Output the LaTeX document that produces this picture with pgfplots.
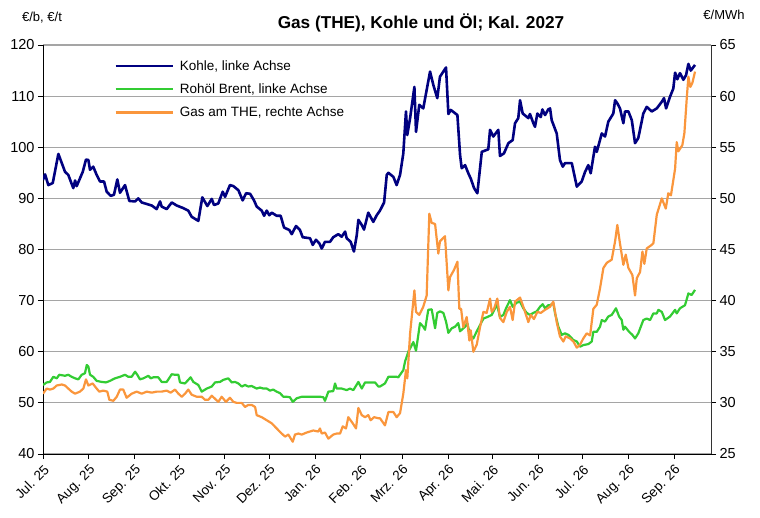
\documentclass[border=0pt]{standalone}
\usepackage{fontspec}
\setmainfont{Liberation Sans}
\usepackage{pgfplots}
\pgfplotsset{compat=1.18}
\definecolor{kohle}{RGB}{0,0,128}
\definecolor{brent}{RGB}{51,204,51}
\definecolor{gas}{RGB}{250,150,60}
\definecolor{gridgray}{RGB}{165,165,165}
\begin{document}
\begin{tikzpicture}
\useasboundingbox (0pt,0pt) rectangle (760pt,517pt);
\begin{axis}[
  at={(43pt,63pt)}, anchor=south west,
  scale only axis, width=668pt, height=409pt,
  xmin=0, xmax=452, ymin=40, ymax=120,
  ytick={40,50,...,120},
  xtick={0,31,62,92,123,153,184,215,243,274,304,335,365,396,427},
  xticklabels={Jul. 25,Aug. 25,Sep. 25,Okt. 25,Nov. 25,Dez. 25,Jan. 26,Feb. 26,Mrz. 26,Apr. 26,Mai. 26,Jun. 26,Jul. 26,Aug. 26,Sep. 26},
  axis x line*=bottom, axis y line*=left,
  axis line style={-, black, line width=1pt},
  tick align=outside, major tick length=5pt,
  tick style={black, line width=0.8pt},
  ymajorgrids, major grid style={gridgray, line width=1.1pt},
  /pgf/number format/assume math mode=true,
  tick label style={font=\fontsize{14.5}{16}\selectfont},
  x tick label style={rotate=45, anchor=north east, font=\fontsize{13.5}{15}\selectfont},
  legend style={draw=none, fill=none, at={(0.102,0.973)}, anchor=north west,
    font=\fontsize{13.5}{16}\selectfont, row sep=8pt,
    /tikz/every odd column/.append style={column sep=4pt}},
  legend cell align=left,
  legend image code/.code={\draw[#1] (0pt,0pt) -- (57pt,0pt);},
]
\addplot[kohle, line width=2.6pt, line join=round] coordinates {
(0,93.6)(1.4,94.7)(3.6,92.6)(6.6,93.0)(10.4,98.7)(14.9,95.2)(17.1,94.6)(20.5,92.0)(21.7,93.5)(22.8,92.4)(26.9,95.2)(29.1,97.6)(30.7,97.5)(31.8,95.6)(34.0,96.2)(36.3,94.6)(38.6,93.3)(41.3,93.3)(43.1,91.3)(45.8,90.5)(48.0,90.7)(50.3,93.7)(52.1,91.1)(55.5,92.6)(58.4,89.5)(62.3,89.4)(64.5,90.0)(66.8,89.2)(70.2,88.9)(73.6,88.6)(76.9,87.9)(79.2,89.4)(80.3,88.4)(83.7,87.9)(87.1,89.2)(90.5,88.6)(94.9,88.1)(98.3,87.6)(100.6,86.4)(105.1,85.6)(107.8,90.2)(111.2,88.5)(114.2,89.9)(115.7,88.7)(118.6,89.0)(121.6,91.3)(123.2,90.3)(126.5,92.6)(128.8,92.4)(132.2,91.6)(135.1,89.6)(137.4,91.0)(140.1,90.9)(142.8,89.6)(144.6,88.4)(148.0,87.6)(149.6,86.6)(151.4,87.6)(153.1,86.7)(154.8,87.2)(158.1,86.6)(160.8,86.6)(163.1,84.3)(166.7,83.8)(168.3,83.0)(171.2,84.6)(173.9,83.8)(175.7,82.4)(180.7,82.2)(182.5,80.9)(184.7,81.9)(187.0,81.2)(188.6,80.2)(190.8,81.5)(194.2,81.5)(196.4,82.4)(199.8,83.0)(202.1,82.5)(204.4,83.5)(205.5,82.2)(208.2,81.5)(210.4,79.6)(212.3,82.8)(213.4,85.8)(215.7,84.8)(217.2,83.9)(220.1,87.2)(223.5,85.4)(225.8,86.7)(228.0,87.6)(230.8,89.2)(232.6,94.6)(233.7,95.0)(237.1,94.2)(239.3,92.6)(241.6,94.6)(243.8,98.8)(245.6,107.0)(246.5,102.4)(248.4,105.7)(251.3,111.8)(252.4,103.0)(254.6,108.3)(257.3,107.6)(261.9,114.8)(264.1,112.2)(266.8,109.6)(268.6,113.8)(272.7,115.6)(274.3,106.5)(275.9,107.3)(280.4,106.3)(282.2,98.5)(283.3,95.9)(285.6,96.5)(287.8,94.9)(289.4,93.9)(291.7,92.0)(293.9,91.0)(296.9,99.1)(301.3,99.6)(302.5,103.4)(304.7,102.1)(308.1,103.4)(309.2,98.3)(311.9,98.8)(314.9,100.8)(317.8,101.4)(319.4,104.7)(321.6,105.7)(322.8,109.2)(324.6,106.6)(328.4,105.7)(329.5,106.5)(331.8,104.7)(332.9,104.0)(334.5,106.6)(336.8,105.9)(337.9,107.4)(339.7,106.3)(341.9,107.4)(343.1,107.6)(344.2,105.3)(347.6,102.7)(349.8,97.5)(351.7,96.2)(353.2,96.9)(355.5,96.9)(357.8,96.9)(361.2,92.3)(364.5,93.3)(366.8,95.2)(369.0,96.5)(370.6,94.9)(373.5,100.1)(374.7,99.1)(378.1,102.7)(380.3,102.1)(382.5,105.0)(385.9,106.6)(387.1,109.2)(388.6,108.6)(390.4,107.6)(392.7,104.7)(393.8,107.0)(396.1,107.0)(398.4,105.3)(400.6,100.8)(402.8,101.8)(406.2,106.6)(408.5,107.9)(411.9,107.0)(415.3,107.6)(418.7,108.9)(420.2,109.6)(421.6,107.6)(424.3,109.9)(426.5,111.5)(427.7,114.6)(429.2,113.3)(431.0,114.5)(433.3,113.2)(435.1,114.1)(436.7,116.3)(438.3,115.0)(441.2,116.1)
};
\addlegendentry{Kohle, linke Achse}
\addplot[brent, line width=2.2pt, line join=round] coordinates {
(0,53.5)(2.5,54.0)(4.7,54.1)(7.0,55.1)(9.3,54.8)(11.0,55.5)(14.9,55.3)(17.1,55.5)(19.4,55.1)(21.7,54.8)(23.9,54.6)(26.2,55.5)(28.4,55.8)(29.6,57.4)(30.7,57.1)(31.8,55.5)(34.0,55.1)(36.3,54.3)(39.7,54.1)(42.6,54.0)(45.3,54.3)(48.7,54.8)(52.1,55.1)(55.5,55.5)(57.7,55.1)(60.0,55.1)(62.3,56.1)(63.8,55.5)(65.6,54.6)(67.9,54.8)(71.3,55.3)(72.9,54.8)(74.6,55.0)(78.0,55.0)(80.3,54.1)(83.7,54.1)(87.1,55.6)(89.3,55.5)(91.6,55.5)(92.7,54.0)(96.1,53.8)(98.3,54.5)(99.9,55.0)(101.7,54.1)(105.1,53.5)(107.4,52.2)(110.8,52.8)(114.2,53.2)(116.4,54.0)(119.8,54.1)(122.0,54.5)(125.4,54.8)(127.7,54.0)(129.9,54.1)(132.2,53.8)(134.5,53.2)(136.7,53.5)(138.9,53.2)(141.2,53.3)(144.6,52.8)(146.8,53.0)(149.1,52.8)(151.4,52.8)(153.6,52.4)(155.8,52.6)(158.1,52.2)(160.4,51.9)(162.6,51.2)(164.9,51.2)(167.1,51.1)(169.0,50.2)(171.7,50.9)(175.1,51.2)(179.5,51.2)(184.1,51.2)(187.4,51.2)(189.7,51.1)(190.8,50.4)(193.1,52.2)(196.4,52.3)(197.6,53.8)(198.7,52.8)(202.1,52.8)(205.5,52.5)(207.7,52.8)(210.0,52.5)(213.4,54.1)(215.7,52.8)(217.9,54.0)(221.3,54.0)(224.7,54.0)(226.9,53.2)(228.0,53.2)(231.4,53.8)(233.7,55.1)(239.3,55.1)(240.4,55.0)(243.8,56.4)(245.0,58.1)(247.2,60.0)(250.6,61.9)(252.4,60.2)(255.1,65.6)(257.3,64.9)(258.5,64.3)(260.7,68.2)(263.0,68.3)(265.3,64.6)(266.8,67.6)(268.6,67.9)(270.9,67.6)(272.7,65.9)(274.3,63.7)(276.6,64.6)(278.8,64.9)(281.0,65.6)(282.2,64.0)(285.6,64.9)(287.1,65.6)(288.9,63.3)(291.2,62.6)(293.5,64.0)(295.7,65.2)(298.0,66.5)(300.7,66.8)(303.6,67.2)(305.9,68.5)(307.0,69.5)(309.2,66.8)(311.5,67.2)(313.3,68.5)(316.0,70.1)(317.8,68.8)(320.5,69.6)(322.8,69.8)(325.0,68.5)(327.3,67.6)(329.5,67.2)(331.8,67.6)(334.1,67.9)(336.3,68.8)(338.1,69.3)(339.7,68.5)(341.9,69.1)(343.1,69.1)(345.3,69.5)(346.5,67.5)(348.7,64.9)(351.0,63.3)(353.2,63.6)(355.5,63.3)(358.9,62.3)(361.2,62.0)(363.4,61.0)(365.6,61.3)(369.0,61.5)(371.3,62.0)(372.4,63.9)(374.7,63.9)(376.9,64.9)(378.1,66.2)(380.3,65.9)(382.5,66.9)(384.8,67.2)(387.7,68.5)(389.8,66.9)(391.6,66.2)(392.7,64.3)(393.8,64.9)(396.6,63.9)(398.8,63.3)(400.6,62.6)(402.8,63.6)(406.2,66.2)(408.5,66.5)(410.8,66.2)(413.0,67.5)(415.3,67.5)(416.4,68.2)(418.7,67.8)(420.9,66.2)(424.3,66.9)(427.7,68.2)(428.8,67.5)(431.0,68.5)(434.4,69.1)(436.7,71.4)(438.9,71.1)(441.2,72.1)
};
\addlegendentry{Rohöl Brent, linke Achse}
\addlegendimage{gas, line width=2.2pt}
\addlegendentry{Gas am THE, rechte Achse}
\end{axis}
\begin{axis}[
  at={(43pt,63pt)}, anchor=south west,
  scale only axis, width=668pt, height=409pt,
  xmin=0, xmax=452, ymin=25, ymax=65,
  ytick={25,30,...,65},
  axis y line*=right, axis x line=none,
  axis line style={-, black!80, line width=1pt},
  tick align=outside, major tick length=5pt,
  tick style={black, line width=0.8pt},
  /pgf/number format/assume math mode=true,
  tick label style={font=\fontsize{14.5}{16}\selectfont},
]
\addplot[gas, line width=2.2pt, line join=round] coordinates {
(0,30.9)(2.5,31.4)(4.7,31.3)(7.0,31.4)(9.3,31.7)(12.7,31.8)(14.9,31.7)(17.1,31.4)(19.4,31.1)(21.7,30.9)(25.0,31.1)(27.3,31.4)(29.1,32.3)(30.7,31.7)(33.6,31.9)(36.3,31.4)(38.1,31.1)(40.8,31.2)(43.5,31.1)(44.9,30.3)(47.6,30.2)(49.9,30.6)(52.1,31.3)(54.3,31.3)(56.6,30.5)(60.0,30.9)(63.4,31.1)(66.8,30.9)(70.2,31.1)(73.6,31.0)(76.9,31.1)(80.3,31.1)(83.7,31.2)(86.4,31.0)(89.3,31.3)(91.6,30.9)(93.9,30.6)(96.1,30.9)(98.3,31.3)(100.6,30.8)(104.0,30.6)(107.4,30.6)(109.6,30.3)(111.9,30.3)(114.2,30.7)(116.4,30.4)(118.6,30.1)(120.9,30.6)(123.8,30.1)(126.5,30.5)(128.8,30.1)(131.1,30.0)(134.5,30.0)(136.7,29.6)(138.9,29.8)(141.2,29.8)(143.5,29.6)(144.6,28.8)(148.0,28.6)(151.4,28.3)(154.8,28.0)(158.1,27.5)(161.5,27.0)(163.8,26.7)(166.0,26.9)(169.0,26.2)(170.5,26.9)(172.8,27.0)(175.1,26.9)(178.4,27.1)(182.9,27.3)(186.3,27.2)(187.4,27.5)(188.6,27.0)(190.8,27.1)(193.1,26.5)(196.4,26.9)(198.7,27.0)(201.0,27.0)(202.8,27.7)(205.0,27.5)(206.6,28.6)(209.6,28.0)(211.8,27.5)(213.4,29.5)(215.7,28.8)(217.9,28.6)(220.1,28.8)(221.7,28.3)(224.0,28.6)(226.9,28.5)(228.0,28.5)(231.4,27.8)(233.7,29.1)(237.1,29.1)(239.3,28.6)(241.6,29.0)(243.8,30.9)(245.6,33.2)(246.5,32.4)(248.4,36.8)(251.3,41.0)(252.4,38.9)(254.6,38.6)(257.3,39.4)(259.6,40.5)(261.4,48.5)(263.0,47.6)(265.3,47.5)(267.5,44.6)(268.6,45.8)(272.0,46.3)(274.3,41.0)(275.4,42.3)(278.1,43.0)(280.4,43.8)(281.7,39.2)(282.9,39.2)(284.4,37.4)(286.7,38.4)(288.5,36.1)(289.4,37.1)(291.2,35.0)(293.5,35.7)(295.7,37.4)(298.0,38.9)(300.2,38.8)(302.5,40.2)(303.6,38.9)(305.2,39.2)(307.4,40.2)(309.2,38.3)(311.5,37.9)(313.8,38.9)(316.0,39.4)(317.8,38.1)(319.4,39.9)(322.8,40.3)(325.5,39.2)(328.4,37.9)(330.0,38.6)(332.2,38.2)(334.5,38.9)(336.8,38.8)(339.7,39.1)(343.1,39.4)(345.3,39.9)(347.6,37.9)(349.8,36.5)(352.1,36.0)(353.7,36.5)(356.6,36.3)(358.9,36.0)(361.2,35.4)(363.4,35.7)(365.6,36.3)(367.9,36.8)(370.2,36.6)(372.4,39.2)(374.7,39.6)(376.9,41.2)(379.2,43.2)(381.5,43.7)(384.8,44.0)(387.1,45.8)(388.6,47.4)(390.4,45.6)(392.7,43.5)(394.3,44.5)(396.1,43.2)(398.8,42.5)(400.6,40.5)(401.8,42.2)(404.0,42.8)(405.6,44.8)(406.9,43.6)(408.5,45.1)(411.4,45.4)(413.0,45.6)(415.3,48.4)(418.7,50.0)(421.4,49.0)(423.1,50.5)(424.9,50.3)(427.7,52.9)(428.8,55.5)(429.9,54.6)(432.6,55.2)(434.0,56.4)(435.6,59.8)(436.7,61.9)(438.0,60.9)(439.4,61.3)(441.2,62.4)
};
\end{axis}
\node[font=\bfseries\fontsize{17.2}{20}\selectfont] at (421pt,494pt) {Gas (THE), Kohle und Öl; Kal. 2027};
\node[font=\fontsize{13}{15}\selectfont] at (42pt,499pt) {€/b, €/t};
\node[font=\fontsize{13}{15}\selectfont] at (724pt,502pt) {€/MWh};
\end{tikzpicture}
\end{document}
